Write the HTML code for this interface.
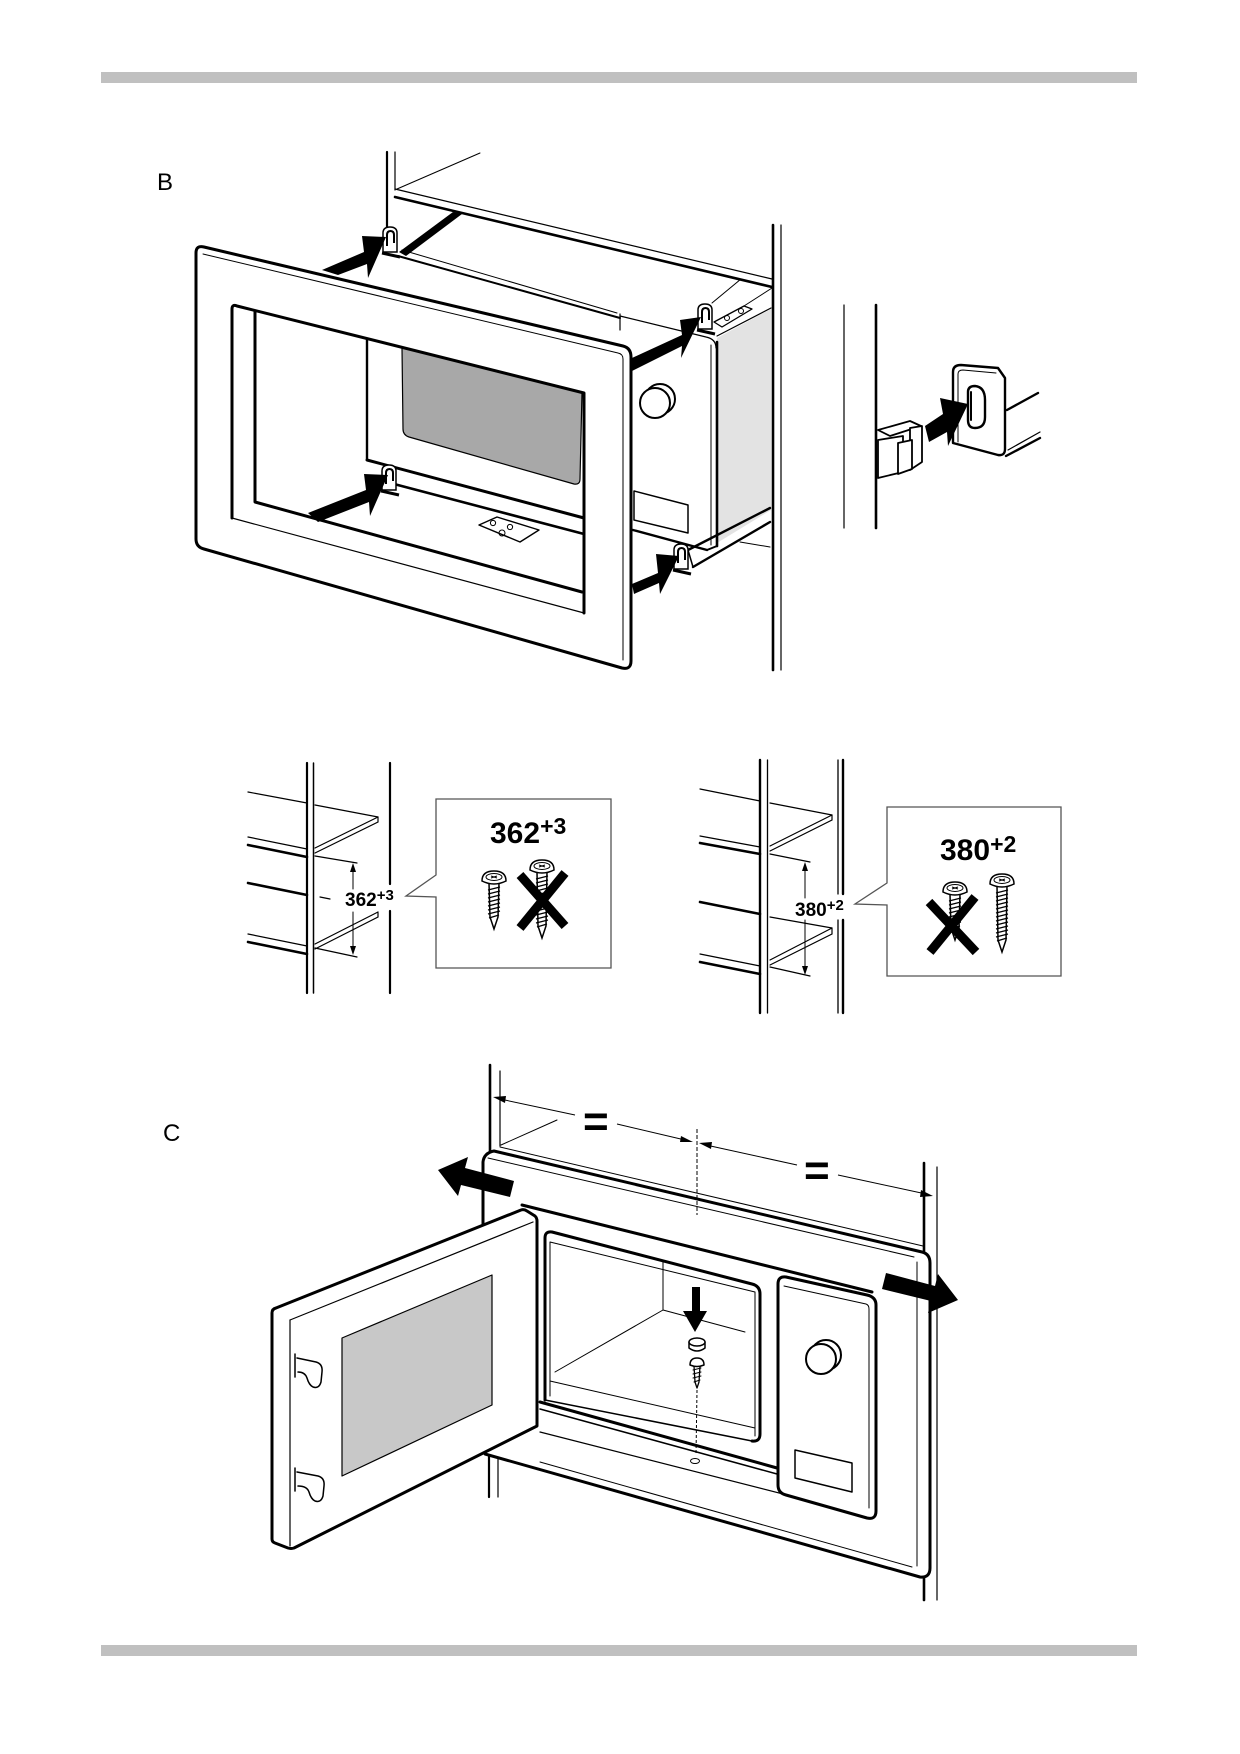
<!DOCTYPE html>
<html><head><meta charset="utf-8"><style>
html,body{margin:0;padding:0;background:#fff;}
svg{display:block;}
text{font-family:"Liberation Sans",Arial,sans-serif;fill:#000;stroke:none;}
</style></head><body>
<svg width="1240" height="1754" viewBox="0 0 1240 1754" xmlns="http://www.w3.org/2000/svg">
<defs>
<g id="hk" fill="none" stroke="#000">
<path d="M-7,12 L-7,-7 Q-7,-13 0,-13 Q7,-13 7,-7 L7,12 Z" fill="#fff" stroke-width="1.5"/>
<path d="M-3,6 L-3,-5 Q-3,-9 0.5,-9 Q4,-9 4,-5 L4,3" stroke-width="2"/>
<path d="M-8,13 L10,17" stroke-width="3"/>
</g>
<g id="scrS" stroke="#000" fill="#fff">
<path d="M-5,4 L5,4 L4,38 L0,50 L-4,38 Z" stroke-width="1.5"/>
<path d="M-6,11 L6,8 M-6,15 L6,12 M-6,19 L6,16 M-6,23 L6,20 M-6,27 L6,24 M-6,31 L6,28 M-6,35 L6,32 M-5,39 L5,36" stroke-width="1.3" fill="none"/>
<path d="M-12,2 Q-12,-8 0,-8 Q12,-8 12,2 Q0,8 -12,2 Z" stroke-width="1.5"/>
<ellipse cx="0" cy="-2" rx="8" ry="3.5" stroke-width="1"/>
<path d="M-3,-3 L3,-1 M-3,-1 L3,-3" stroke-width="1" fill="none"/>
</g>
<g id="scrL" stroke="#000" fill="#fff">
<path d="M-5,4 L5,4 L4,58 L0,70 L-4,58 Z" stroke-width="1.5"/>
<path d="M-6,11 L6,8 M-6,15 L6,12 M-6,19 L6,16 M-6,23 L6,20 M-6,27 L6,24 M-6,31 L6,28 M-6,35 L6,32 M-6,39 L6,36 M-6,43 L6,40 M-6,47 L6,44 M-6,51 L6,48 M-6,55 L6,52 M-5,59 L5,56" stroke-width="1.3" fill="none"/>
<path d="M-12,2 Q-12,-8 0,-8 Q12,-8 12,2 Q0,8 -12,2 Z" stroke-width="1.5"/>
<ellipse cx="0" cy="-2" rx="8" ry="3.5" stroke-width="1"/>
<path d="M-3,-3 L3,-1 M-3,-1 L3,-3" stroke-width="1" fill="none"/>
</g>
</defs>
<rect width="1240" height="1754" fill="#fff"/>
<rect x="101" y="72" width="1036" height="11" fill="#c0c0c0"/>
<rect x="101" y="1645" width="1036" height="11" fill="#c0c0c0"/>

<text x="157" y="190" font-size="24">B</text>
<text x="163" y="1141" font-size="24">C</text>

<!-- ================= SECTION B ================= -->
<g fill="none" stroke="#000" stroke-linecap="round" stroke-linejoin="round">
<line x1="387" y1="152" x2="387" y2="232" stroke-width="2.2"/>
<line x1="395" y1="152" x2="395" y2="190" stroke-width="1.2"/>
<line x1="397" y1="189" x2="480" y2="153" stroke-width="1"/>
<line x1="395" y1="189" x2="772" y2="279" stroke-width="1.2"/>
<line x1="395" y1="197" x2="772" y2="287" stroke-width="2.6"/>
<line x1="773" y1="225" x2="773" y2="670" stroke-width="2.6"/>
<line x1="781" y1="225" x2="781" y2="670" stroke-width="1.2"/>
<polygon points="399,252 453,212 462,214 406,256" fill="#000" stroke="none"/>
<line x1="398" y1="256" x2="620" y2="318" stroke-width="2"/>
<line x1="402" y1="250" x2="617" y2="313" stroke-width="1"/>
<line x1="620" y1="314" x2="620" y2="330" stroke-width="1.2"/>
<path d="M620,316 L706,337 Q716,339 716,348" stroke-width="1.2"/>
<polygon points="717,338 771,309 771,510 717,543" fill="#e3e3e3" stroke="none"/>
<line x1="717" y1="336" x2="771" y2="308" stroke-width="1.2"/>
<line x1="717" y1="342" x2="717" y2="546" stroke-width="2.6"/>
<line x1="711" y1="345" x2="711" y2="545" stroke-width="1"/>
<line x1="712" y1="303" x2="741" y2="279" stroke-width="1"/>
<line x1="744" y1="306" x2="772" y2="288" stroke-width="1"/>
<polygon points="714,322 744,306 752,309 722,327" fill="#fff" stroke-width="1.3"/>
<circle cx="727" cy="318" r="2.5" stroke-width="1"/>
<circle cx="741" cy="311" r="2.5" stroke-width="1"/>
<line x1="633" y1="530" x2="707" y2="550" stroke-width="2.4"/>
<line x1="707" y1="550" x2="717" y2="546" stroke-width="2"/>
<polygon points="634,491 688,505 688,533 634,520" stroke-width="1.5"/>
<circle cx="660" cy="399" r="15" stroke-width="2" fill="#fff"/>
<circle cx="655" cy="403" r="15" stroke-width="2" fill="#fff"/>
<path d="M688,550 L770,508" stroke-width="2.4"/>
<path d="M693,567 L770,522" stroke-width="2.4"/>
<path d="M688,550 L693,567" stroke-width="1.5"/>
<path d="M740,542 L770,547" stroke-width="1"/>
<line x1="367" y1="338" x2="367" y2="460" stroke-width="2.4"/>
<line x1="367" y1="460" x2="584" y2="518" stroke-width="3"/>
<path d="M402,348 L582,392 L580,479 Q580,485 574,484 L409,437 Q403,435 403,429 Z" fill="#a8a8a8" stroke-width="1.2"/>
<line x1="394" y1="484" x2="584" y2="534" stroke-width="2.6"/>
<polygon points="479,525 497,517 539,530 520,542" fill="#fff" stroke-width="1.4"/>
<circle cx="493" cy="523" r="2.6" stroke-width="1"/>
<circle cx="510" cy="527" r="2.6" stroke-width="1"/>
<circle cx="502" cy="533" r="3" stroke-width="1"/>
</g>
<use href="#hk" x="390" y="240"/>
<use href="#hk" x="705" y="317"/>
<use href="#hk" x="389" y="478"/>
<use href="#hk" x="681" y="557"/>
<g fill="#000" stroke="none">
<polygon points="322,270 364,252 362,236 386,237 368,278 367,264 338,275"/>
<polygon points="632,358 682,335 680,320 701,317 681,358 682,346 632,371"/>
<polygon points="308,513 366,490 364,474 388,475 370,516 369,502 318,522"/>
<polygon points="632,584 658,573 656,554 679,556 660,594 659,583 634,594"/>
</g>
<path d="M196,253 Q196,245 204,247 L623,346 Q631,348 631,357 L631,661 Q631,670 622,668 L204,549 Q196,547 196,539 Z M232,305 L584,393 L584,613 L232,518 Z" fill="#fff" fill-rule="evenodd" stroke="none"/>
<g fill="none" stroke="#000" stroke-linecap="round" stroke-linejoin="round">
<path d="M196,253 Q196,245 204,247 L623,346 Q631,348 631,357 L631,661 Q631,670 622,668 L204,549 Q196,547 196,539 Z" stroke-width="3"/>
<path d="M203,254 L618,353 Q623,354 623,359 L623,660" stroke-width="1"/>
<path d="M232,518 L232,309 Q232,304 237,306 L584,393 L584,613" stroke-width="3"/>
<line x1="232" y1="518" x2="584" y2="613" stroke-width="1.2"/>
<line x1="232" y1="309" x2="232" y2="518" stroke-width="1.2"/>
<path d="M255,311 L255,502 L582,592" stroke-width="3"/>
</g>

<!-- right detail B -->
<g fill="none" stroke="#000" stroke-linecap="round" stroke-linejoin="round">
<line x1="844" y1="305" x2="844" y2="528" stroke-width="1.2"/>
<line x1="876" y1="305" x2="876" y2="528" stroke-width="2.6"/>
<polygon points="878,430 910,421 921,426 890,436" fill="#fff" stroke-width="1.8"/>
<polygon points="910,428 922,426 922,462 910,470" fill="#fff" stroke-width="1.8"/>
<polygon points="878,440 903,436 903,472 878,478" fill="#fff" stroke-width="1.8"/>
<polygon points="898,443 912,440 912,469 898,474" fill="#fff" stroke-width="1.8"/>
<path d="M1007,410 L1038,393" stroke-width="2.4"/>
<path d="M1008,450 L1040,432" stroke-width="1.2"/>
<path d="M1006,456 L1040,438" stroke-width="2.4"/>
<path d="M953,443 L953,372 Q953,365 961,365 L998,368 L1005,378 L1005,449 Q1005,456 998,455 Z" fill="#fff" stroke-width="2.4"/>
<path d="M958,442 L958,374 Q958,370 963,370 L996,373" stroke-width="1"/>
<path d="M968,392 Q968,386 975,386 Q985,387 985,400 L985,417 Q985,428 975,428 Q968,428 968,420 Z" fill="#fff" stroke-width="2.4"/>
<line x1="971" y1="392" x2="971" y2="420" stroke-width="2"/>
</g>
<polygon points="925,426 943,414 940,398 968,404 948,446 947,432 929,442" fill="#000"/>

<!-- ================= MIDDLE LEFT ================= -->
<g fill="none" stroke="#000" stroke-linecap="round">
<line x1="307" y1="763" x2="307" y2="993" stroke-width="2.2"/>
<line x1="313.5" y1="763" x2="313.5" y2="993" stroke-width="1.5"/>
<line x1="390" y1="763" x2="390" y2="884" stroke-width="2.2"/>
<line x1="390" y1="911" x2="390" y2="993" stroke-width="2.2"/>
<g stroke-width="1.2">
<line x1="248" y1="792" x2="307" y2="803"/>
<line x1="315" y1="805" x2="378" y2="817"/>
<path d="M378,817 L378,822 L315,853 M378,817 L315,848"/>
<line x1="248" y1="837" x2="307" y2="849"/>
<line x1="315" y1="856" x2="357" y2="863"/>
<line x1="320" y1="897" x2="330" y2="899"/>
<path d="M378,912 L378,917 L315,949 M378,912 L315,944"/>
<line x1="248" y1="934" x2="307" y2="946"/>
<line x1="315" y1="948" x2="357" y2="957"/>
</g>
<g stroke-width="2.6">
<line x1="248" y1="845" x2="307" y2="857"/>
<line x1="248" y1="883" x2="307" y2="895"/>
<line x1="248" y1="942" x2="307" y2="954"/>
</g>
<line x1="353" y1="870" x2="353" y2="889" stroke-width="1"/>
<line x1="353" y1="912" x2="353" y2="948" stroke-width="1"/>
<path d="M436,875 L436,799 L611,799 L611,968 L436,968 L436,897 L406,896 L436,875" stroke="#555" stroke-width="1.3" stroke-linejoin="miter"/>
</g>
<polygon points="353,863 350,872 356,872" fill="#000"/>
<polygon points="353,955 350,946 356,946" fill="#000"/>
<use href="#scrS" x="494" y="879"/>
<use href="#scrL" x="542" y="868"/>
<g fill="none" stroke="#000"><line x1="520" y1="875" x2="565" y2="926" stroke-width="9"/><line x1="565" y1="873" x2="520" y2="928" stroke-width="9"/></g>
<text x="345" y="906" font-size="19" font-weight="bold">362<tspan font-size="15" dy="-6">+3</tspan></text>
<text x="490" y="843" font-size="30" font-weight="bold">362<tspan font-size="23" dy="-9">+3</tspan></text>

<!-- ================= MIDDLE RIGHT ================= -->
<g fill="none" stroke="#000" stroke-linecap="round">
<line x1="760" y1="760" x2="760" y2="1013" stroke-width="2.4"/>
<line x1="767.5" y1="760" x2="767.5" y2="1013" stroke-width="1.3"/>
<line x1="838" y1="760" x2="838" y2="894" stroke-width="1.3"/>
<line x1="838" y1="920" x2="838" y2="1013" stroke-width="1.3"/>
<line x1="843" y1="760" x2="843" y2="894" stroke-width="2.4"/>
<line x1="843" y1="920" x2="843" y2="1013" stroke-width="2.4"/>
<g stroke-width="1.2">
<line x1="700" y1="789" x2="760" y2="801"/>
<line x1="770" y1="803" x2="832" y2="815"/>
<path d="M832,815 L832,820 L770,851 M832,815 L770,846"/>
<line x1="700" y1="836" x2="760" y2="847"/>
<line x1="770" y1="854" x2="810" y2="862"/>
<line x1="770" y1="917" x2="832" y2="928"/>
<path d="M832,928 L832,934 L770,965 M832,928 L770,960"/>
<line x1="700" y1="954" x2="760" y2="966"/>
<line x1="770" y1="967" x2="810" y2="976"/>
</g>
<g stroke-width="2.6">
<line x1="700" y1="843" x2="760" y2="854"/>
<line x1="700" y1="902" x2="760" y2="914"/>
<line x1="700" y1="962" x2="760" y2="974"/>
</g>
<line x1="805" y1="869" x2="805" y2="898" stroke-width="1"/>
<line x1="805" y1="920" x2="805" y2="968" stroke-width="1"/>
<path d="M887,883 L887,807 L1061,807 L1061,976 L887,976 L887,905 L855,904 L887,883" stroke="#555" stroke-width="1.3" stroke-linejoin="miter"/>
</g>
<polygon points="805,862 802,871 808,871" fill="#000"/>
<polygon points="805,975 802,966 808,966" fill="#000"/>
<use href="#scrS" x="955" y="890"/>
<use href="#scrL" x="1002" y="882"/>
<g fill="none" stroke="#000"><line x1="929" y1="902" x2="976" y2="952" stroke-width="9"/><line x1="975" y1="897" x2="930" y2="952" stroke-width="9"/></g>
<text x="795" y="916" font-size="19" font-weight="bold">380<tspan font-size="15" dy="-6">+2</tspan></text>
<text x="940" y="860" font-size="30" font-weight="bold">380<tspan font-size="23" dy="-8">+2</tspan></text>

<!-- ================= SECTION C ================= -->
<g fill="none" stroke="#000" stroke-linecap="round" stroke-linejoin="round">
<line x1="490" y1="1065" x2="490" y2="1153" stroke-width="2.6"/>
<line x1="500" y1="1071" x2="500" y2="1146" stroke-width="1.2"/>
<line x1="489" y1="1455" x2="489" y2="1497" stroke-width="2.2"/>
<line x1="498" y1="1458" x2="498" y2="1497" stroke-width="1.2"/>
<line x1="924" y1="1163" x2="924" y2="1600" stroke-width="2.6"/>
<line x1="937" y1="1167" x2="937" y2="1600" stroke-width="1.2"/>
<line x1="501" y1="1145" x2="557" y2="1120" stroke-width="1"/>
<line x1="500" y1="1147" x2="923" y2="1246" stroke-width="1"/>
</g>
<path d="M483,1226 L483,1162 Q484,1153 494,1151 L922,1252 Q930,1254 930,1263 L930,1568 Q930,1578 920,1577 L485,1454 Z" fill="#fff" stroke="#000" stroke-width="3" stroke-linejoin="round"/>
<g fill="none" stroke="#000" stroke-linecap="round" stroke-linejoin="round">
<line x1="488" y1="1158" x2="914" y2="1257" stroke-width="1"/>
<line x1="917" y1="1262" x2="917" y2="1566" stroke-width="1"/>
<line x1="540" y1="1462" x2="912" y2="1567" stroke-width="1"/>
<line x1="522" y1="1205" x2="872" y2="1292" stroke-width="3"/>
<line x1="540" y1="1402" x2="777" y2="1468" stroke-width="3"/>
<line x1="540" y1="1409" x2="777" y2="1474" stroke-width="1.5"/>
<line x1="540" y1="1432" x2="873" y2="1517" stroke-width="1.2"/>
<path d="M545,1400 L545,1238 Q545,1231 552,1232 L752,1284 Q760,1286 760,1294 L760,1434 Q760,1442 752,1441" stroke-width="3"/>
<line x1="545" y1="1400" x2="752" y2="1441" stroke-width="1.5"/>
<path d="M550,1396 L550,1242 L755,1292 L755,1436" stroke-width="1"/>
<line x1="550" y1="1381" x2="755" y2="1428" stroke-width="1"/>
<line x1="663" y1="1262" x2="663" y2="1310" stroke-width="1"/>
<line x1="555" y1="1372" x2="663" y2="1310" stroke-width="1"/>
<line x1="663" y1="1310" x2="745" y2="1332" stroke-width="1"/>
<path d="M778,1284 Q778,1276 786,1277 L867,1295 Q876,1297 876,1305 L876,1511 Q876,1520 867,1518 L786,1495 Q778,1493 778,1485 Z" fill="#fff" stroke-width="3"/>
<path d="M784,1286 L866,1304 Q869,1305 869,1309 L869,1508" stroke-width="1"/>
<polygon points="795,1450 852,1463 852,1492 795,1478" stroke-width="1.5"/>
<circle cx="826" cy="1355" r="15" fill="#fff" stroke-width="2"/>
<circle cx="821" cy="1359" r="15" fill="#fff" stroke-width="2"/>
<path d="M689,1342 L689,1348 Q697,1354 705,1348 L705,1342" fill="#fff" stroke-width="1.5"/>
<ellipse cx="697" cy="1342" rx="8" ry="4" fill="#fff" stroke-width="1.5"/>
<path d="M694,1366 L700,1366 L699,1382 L697,1388 L695,1382 Z" fill="#fff" stroke-width="1.3"/>
<path d="M693,1370 L701,1368 M693,1374 L701,1372 M693,1378 L701,1376 M694,1382 L700,1380" stroke-width="1"/>
<path d="M690,1365 Q690,1358 697,1358 Q704,1358 704,1365 Q697,1368 690,1365 Z" fill="#fff" stroke-width="1.5"/>
<line x1="697" y1="1390" x2="696" y2="1455" stroke-width="1" stroke-dasharray="3,2" stroke-linecap="butt"/>
<ellipse cx="695" cy="1461" rx="4.5" ry="2.5" stroke-width="1"/>
<line x1="697" y1="1129" x2="697" y2="1215" stroke-width="1" stroke-dasharray="4,2" stroke-linecap="butt"/>
</g>
<polygon points="692,1287 700,1287 700,1311 707,1311 695,1332 683,1311 692,1311" fill="#000"/>
<g fill="none" stroke="#000" stroke-linecap="round" stroke-linejoin="round">
<path d="M272,1313 Q272,1309 276,1308 L521,1210 Q524,1209 527,1211 L535,1216 Q537,1218 537,1221 L537,1426 L294,1548 Q291,1549 288,1548 L275,1543 Q272,1542 272,1539 Z" fill="#fff" stroke-width="3"/>
<line x1="290" y1="1320" x2="290" y2="1546" stroke-width="1.2"/>
<line x1="290" y1="1320" x2="533" y2="1222" stroke-width="1.2"/>
<polygon points="342,1338 492,1275 492,1405 342,1476" fill="#c8c8c8" stroke-width="1.2"/>
<path d="M295,1354 L295,1377 M297,1358 L316,1362 Q323,1364 322,1372 L321,1382 Q319,1389 313,1387 Q309,1385 307,1378 Q305,1372 298,1372" fill="#fff" stroke-width="1.5"/>
<path d="M295,1468 L295,1491 M297,1472 L318,1476 Q325,1478 324,1486 L323,1496 Q321,1503 315,1501 Q311,1499 309,1492 Q307,1486 298,1486" fill="#fff" stroke-width="1.5"/>
</g>
<g fill="#000" stroke="none">
<polygon points="514,1181 465,1168 468,1157 438,1170 458,1196 461,1185 510,1197"/>
<polygon points="882,1289 931,1301 928,1313 958,1300 938,1274 935,1286 886,1273"/>
<polygon points="493,1097 505,1103 506,1096"/>
<polygon points="693,1142 681,1136 680,1142"/>
<polygon points="699,1143 711,1149 712,1142"/>
<polygon points="933,1196 921,1190 920,1197"/>
</g>
<g stroke="#000" stroke-width="1" fill="none">
<line x1="500" y1="1099" x2="575" y2="1115"/>
<line x1="617" y1="1124" x2="685" y2="1140"/>
<line x1="706" y1="1145" x2="797" y2="1165"/>
<line x1="838" y1="1175" x2="926" y2="1194"/>
</g>
<text x="583" y="1136" font-size="44" font-weight="bold">=</text>
<text x="804" y="1185" font-size="44" font-weight="bold">=</text>
</svg>
</body></html>
